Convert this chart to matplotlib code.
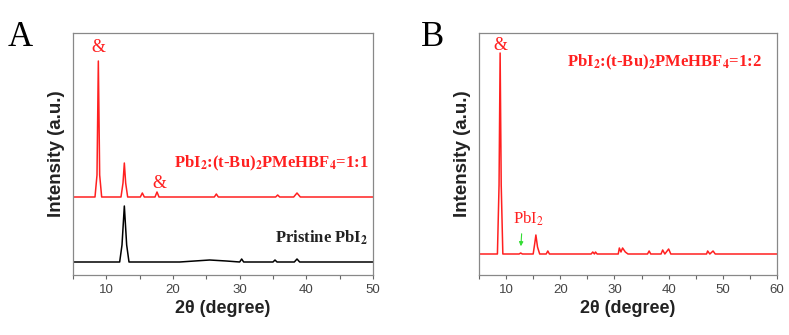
import matplotlib.pyplot as plt

W, H = 789, 335

# ---- Panel A data (2theta, intensity) ----
a_red_x = [5, 8.3, 8.6, 8.8, 9.0, 9.3, 12.2, 12.5, 12.7, 12.9, 13.2, 15.1, 15.4, 15.7,
           17.3, 17.6, 17.9, 26.2, 26.5, 26.8, 35.4, 35.7, 36.0, 38.1, 38.6, 39.1, 50]
a_red_y = [78, 78, 100, 214, 100, 78, 78, 92, 112, 92, 78, 78, 82, 78,
           78, 83, 78, 78, 81, 78, 78, 80, 78, 78, 82, 78, 78]
a_blk_x = [5, 12.0, 12.35, 12.7, 13.05, 13.4, 21, 25.5, 28, 30.0, 30.3, 30.6, 35.0, 35.3, 35.6,
           38.2, 38.6, 39.0, 50]
a_blk_y = [13, 13, 30, 69, 30, 13, 13, 15, 14, 13, 16, 13, 13, 15, 13,
           13, 16, 13, 13]

# ---- Panel B data ----
b_x = [5, 8.4, 8.7, 8.9, 9.1, 9.4, 12.4, 12.7, 13.0, 15.0, 15.3, 15.5, 15.8, 16.2,
       17.4, 17.7, 18.0, 25.7, 26.0, 26.3, 26.5, 26.8, 30.7, 30.9, 31.2, 31.5, 32.0, 32.5,
       36.1, 36.4, 36.7, 38.6, 38.9, 39.3, 40.0, 40.4, 47.0, 47.2, 47.6, 48.2, 48.6, 60]
b_y = [21, 21, 90, 222, 90, 21, 21, 22, 21, 21, 32, 40, 28, 21,
       21, 24, 21, 21, 23, 21, 23, 21, 21, 27, 23, 27, 23, 21,
       21, 24, 21, 21, 25, 21, 26, 21, 21, 24, 21, 24, 21, 21]

RED = '#ff2020'
serif = ['Liberation Serif', 'DejaVu Serif']
sans = ['Liberation Sans', 'DejaVu Sans']
plt.rcParams['mathtext.fontset'] = 'stix'

fig = plt.figure(figsize=(W / 100, H / 100), dpi=100)


def make_axes(left, right, top, bottom, xmax):
    ax = fig.add_axes([left / W, 1 - bottom / H, (right - left) / W, (bottom - top) / H])
    ax.set_xlim(5, xmax)
    ax.set_ylim(0, bottom - top)
    ax.set_yticks([])
    ax.set_xticks(range(10, xmax + 1, 10))
    ax.set_xticks(range(5, xmax + 1, 10), minor=True)
    ax.tick_params(axis='x', which='both', direction='out', length=3, width=0.8,
                   colors='#666666', labelsize=9.5, labelcolor='#444444')
    for lab in ax.get_xticklabels():
        lab.set_family(sans)
    for s in ax.spines.values():
        s.set_color('#888888')
        s.set_linewidth(0.9)
    ax.set_xlabel('2θ (degree)', fontsize=13, fontweight='bold', family=sans,
                  color='#222222', labelpad=3)
    ax.set_ylabel('Intensity (a.u.)', fontsize=13.5, fontweight='bold', family=sans,
                  color='#222222', labelpad=6)
    return ax


# Panel A
axA = make_axes(73, 373, 33, 275, 50)
axA.plot(a_red_x, a_red_y, color=RED, lw=1.1)
axA.plot(a_blk_x, a_blk_y, color='black', lw=1.1)
axA.text(8.8, 228, '&', color=RED, fontsize=13, family=serif, ha='center', va='center')
axA.text(17.9, 92, '&', color=RED, fontsize=13, family=serif, ha='center', va='center')
axA.text(49.3, 112, r'PbI$_\mathbf{2}$:(t-Bu)$_\mathbf{2}$PMeHBF$_\mathbf{4}$=1:1', color=RED,
         fontsize=12, fontweight='bold', family=serif, ha='right', va='center')
axA.text(49.3, 37, r'Pristine PbI$_\mathbf{2}$', color='#222222', fontsize=12,
         fontweight='bold', family=serif, ha='right', va='center')
fig.text(8 / W, 1 - 37 / H, 'A', fontsize=25, family=serif, va='center', ha='left')

# Panel B
axB = make_axes(479, 777, 33, 275, 60)
axB.plot(b_x, b_y, color=RED, lw=1.1)
axB.text(8.9, 229, '&', color=RED, fontsize=13, family=serif, ha='center', va='center')
axB.text(57.2, 213, r'PbI$_\mathbf{2}$:(t-Bu)$_\mathbf{2}$PMeHBF$_\mathbf{4}$=1:2', color=RED,
         fontsize=12, fontweight='bold', family=serif, ha='right', va='center')
axB.text(14.2, 56, r'PbI$_2$', color=RED, fontsize=12, family=serif, ha='center', va='center')
axB.annotate('', xy=(12.7, 26), xytext=(12.9, 44),
             arrowprops=dict(arrowstyle='-|>', color='#33dd33', lw=0.8, mutation_scale=6))
fig.text(421 / W, 1 - 37 / H, 'B', fontsize=25, family=serif, va='center', ha='left')

fig.savefig('out.png', dpi=100)
